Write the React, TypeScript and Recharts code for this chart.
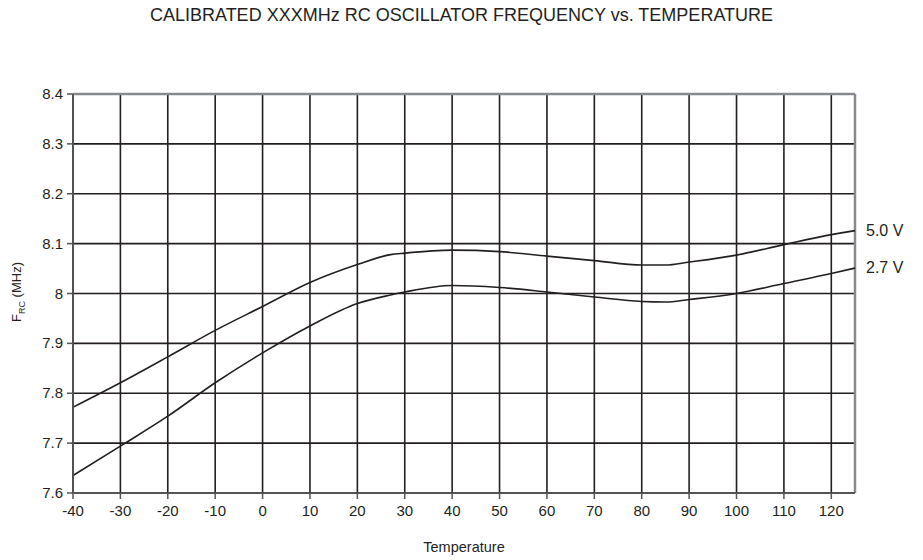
import React from 'react';
import { LineChart, Line, XAxis, YAxis, CartesianGrid, ReferenceLine, Label } from 'recharts';

const temps = [-40, -30, -20, -10, 0, 10, 20, 27, 30, 40, 50, 60, 70, 80, 85, 90, 100, 110, 120, 125];
const freq50 = [7.772, 7.821, 7.873, 7.926, 7.974, 8.022, 8.058, 8.078, 8.081, 8.087, 8.084, 8.075, 8.066, 8.057, 8.057, 8.063, 8.077, 8.098, 8.118, 8.126];
const freq27 = [7.635, 7.694, 7.754, 7.821, 7.881, 7.935, 7.98, 7.997, 8.003, 8.016, 8.012, 8.003, 7.993, 7.984, 7.983, 7.988, 8.0, 8.02, 8.04, 8.051];
const xTicks = [-40, -30, -20, -10, 0, 10, 20, 30, 40, 50, 60, 70, 80, 90, 100, 110, 120];
const yTicks = [7.6, 7.7, 7.8, 7.9, 8.0, 8.1, 8.2, 8.3, 8.4];
const seriesNames = ['5.0 V', '2.7 V'];

const data = temps.map((t, i) => ({ t, v50: freq50[i], v27: freq27[i] }));

const font = '"Liberation Sans", Arial, sans-serif';
const ink = '#231f20';

const endLabel = (name: string) => (props: any) => {
  const { x, y, index } = props;
  if (index !== data.length - 1) return null;
  return (
    <text x={x + 11} y={y + 5} fontSize={16} fill={ink} fontFamily={font}>
      {name}
    </text>
  );
};

const XTick = (props: any) => {
  const { x, y, payload } = props;
  return (
    <text x={x} y={y + 14} textAnchor="middle" fontSize={15} fill={ink} fontFamily={font}>
      {payload.value}
    </text>
  );
};

const YTick = (props: any) => {
  const { x, y, payload } = props;
  const v = payload.value as number;
  return (
    <text x={x} y={y + 5} textAnchor="end" fontSize={15} fill={ink} fontFamily={font}>
      {v === 8 ? '8' : v.toFixed(1)}
    </text>
  );
};

const App: React.FC = () => {
  return (
    <div style={{ position: 'absolute', left: 0, top: 0, width: 923, height: 560, background: '#fff', fontFamily: font }}>
      <div style={{ position: 'absolute', top: 5, width: 923, textAlign: 'center', fontSize: 18, color: ink }}>
        CALIBRATED XXXMHz RC OSCILLATOR FREQUENCY vs. TEMPERATURE
      </div>
      <LineChart width={923} height={560} data={data} margin={{ top: 94, right: 68, left: 13, bottom: 37 }}>
        <CartesianGrid stroke={ink} strokeWidth={1.6} strokeOpacity={1} />
        <XAxis
          dataKey="t"
          type="number"
          domain={[-40, 125]}
          ticks={xTicks}
          interval={0}
          height={30}
          stroke="#555"
          strokeWidth={1.5}
          tickSize={6}
          tick={<XTick />}
          tickMargin={3}
        >
          <Label value="Temperature" position="insideBottom" offset={-29} style={{ fill: ink, fontSize: 14.5, fontFamily: font }} />
        </XAxis>
        <YAxis
          type="number"
          domain={[7.6, 8.4]}
          ticks={yTicks}
          interval={0}
          width={60}
          stroke="#555"
          strokeWidth={1.5}
          tickSize={6}
          tick={<YTick />}
          tickMargin={4}
        />
        <ReferenceLine y={8.4} stroke="#868a8f" strokeWidth={2.5} />
        <ReferenceLine x={125} stroke="#868a8f" strokeWidth={2.5} />
        <Line type="monotone" dataKey="v50" stroke={ink} strokeWidth={1.6} dot={false} isAnimationActive={false} label={endLabel(seriesNames[0])} />
        <Line type="monotone" dataKey="v27" stroke={ink} strokeWidth={1.6} dot={false} isAnimationActive={false} label={endLabel(seriesNames[1])} />
      </LineChart>
      <div
        style={{
          position: 'absolute',
          left: 18,
          top: 292,
          transform: 'translate(-50%, -50%) rotate(-90deg)',
          whiteSpace: 'nowrap',
          fontSize: 13,
          color: ink,
        }}
      >
        F<sub style={{ fontSize: 9 }}>RC</sub> (MHz)
      </div>
    </div>
  );
};

export default App;
